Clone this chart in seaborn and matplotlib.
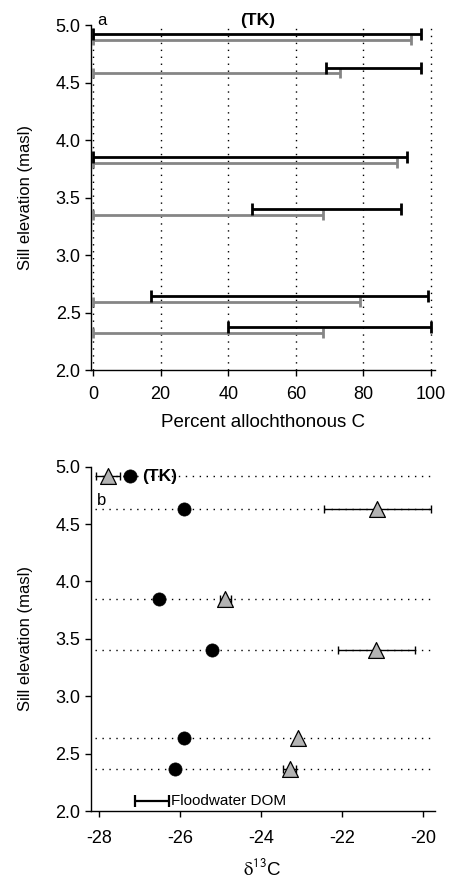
import matplotlib
matplotlib.use("Agg")
import matplotlib.pyplot as plt
import seaborn as sns
import pandas as pd
import numpy as np

# Sill elevation of each site (m above sea level), top = TK
sill_elev = [4.92, 4.63, 3.85, 3.40, 2.64, 2.37]

# Panel a: ranges of percent allochthonous carbon
dark_lo = [0, 69, 0, 47, 17, 40]
dark_hi = [97, 97, 93, 91, 99, 100]
light_lo = [0, 0, 0, 0, 0, 0]
light_hi = [94, 73, 90, 68, 79, 68]

# Panel b: delta 13C values
circle_d13c = [-27.22, -25.91, -26.51, -25.21, -25.91, -26.12]
tri_d13c = [-27.78, -21.14, -24.88, -21.16, -23.10, -23.30]
tri_err = [0.30, 1.32, 0.14, 0.94, 0.0, 0.16]

# Floodwater DOM range
flood_lo, flood_hi = -27.10, -26.28

a_ticks = [0, 20, 40, 60, 80, 100]
b_ticks = [-28, -26, -24, -22, -20]
y_ticks = [2.0, 2.5, 3.0, 3.5, 4.0, 4.5, 5.0]

sns.set_theme(style="ticks")
plt.rcParams["font.family"] = ["Liberation Sans", "DejaVu Sans"]
plt.rcParams["mathtext.fontset"] = "stix"
plt.rcParams["axes.linewidth"] = 1.0
plt.rcParams["xtick.major.size"] = 4
plt.rcParams["ytick.major.size"] = 4
plt.rcParams["xtick.major.width"] = 1.0
plt.rcParams["ytick.major.width"] = 1.0
for key in ("text.color", "axes.labelcolor", "xtick.color", "ytick.color",
            "axes.edgecolor"):
    plt.rcParams[key] = "black"

fig = plt.figure(figsize=(4.51, 8.80), dpi=100)
ax1 = fig.add_axes([0.2018, 0.5795, 0.763, 0.392])
ax2 = fig.add_axes([0.2011, 0.0784, 0.763, 0.3913])

dots = (0, (1, 4))
gray = "#858585"
offset = 0.05

# ---- panel a ----
for xv in a_ticks:
    ax1.axvline(xv, color="black", lw=1.0, ls=dots, zorder=0)

df_a = pd.DataFrame({
    "elev": sill_elev,
    "dlo": dark_lo, "dhi": dark_hi,
    "llo": light_lo, "lhi": light_hi,
})
dmid = (df_a["dlo"] + df_a["dhi"]) / 2
lmid = (df_a["llo"] + df_a["lhi"]) / 2
ax1.errorbar(lmid, df_a["elev"] - offset, xerr=(df_a["lhi"] - df_a["llo"]) / 2,
             fmt="none", ecolor=gray, elinewidth=2.0, capsize=3.8, capthick=2.0, zorder=3)
ax1.errorbar(dmid, df_a["elev"], xerr=(df_a["dhi"] - df_a["dlo"]) / 2,
             fmt="none", ecolor="black", elinewidth=2.0, capsize=4.0, capthick=2.0, zorder=4)

ax1.set_xlim(-0.6, 101.2)
ax1.set_ylim(2.0, 5.0)
ax1.set_xticks(a_ticks)
ax1.set_yticks(y_ticks)
ax1.set_yticklabels([f"{v:.1f}" for v in y_ticks])
ax1.set_xlabel("Percent allochthonous C", fontsize=13.5, labelpad=8)
ax1.set_ylabel("Sill elevation (masl)", fontsize=12, labelpad=16)
ax1.tick_params(labelsize=13, direction="out", color="black", labelcolor="black")
ax1.tick_params(axis="x", pad=7.5)
ax1.text(1.2, 5.003, "a", fontsize=12, ha="left", va="baseline", clip_on=False)
ax1.text(48.6, 5.04, "(TK)", fontsize=12.5, fontweight="bold", ha="center",
         va="center", clip_on=False)

# ---- panel b ----
for yv in sill_elev:
    ax2.axhline(yv, xmin=0.012, xmax=1.0, color="black", lw=1.0, ls=dots, zorder=0)

df_b = pd.DataFrame({"elev": sill_elev, "circ": circle_d13c,
                     "tri": tri_d13c, "err": tri_err})
ax2.errorbar(df_b["tri"], df_b["elev"], xerr=df_b["err"], fmt="none",
             ecolor="black", elinewidth=1.0, capsize=3, capthick=1.0, zorder=2)
sns.scatterplot(data=df_b, x="tri", y="elev", marker="^", s=130, color="#b3b3b3",
                edgecolor="black", linewidth=0.9, ax=ax2, zorder=3, legend=False)
sns.scatterplot(data=df_b, x="circ", y="elev", marker="o", s=90, color="black",
                edgecolor="black", linewidth=0.5, ax=ax2, zorder=4, legend=False)

ax2.errorbar([(flood_lo + flood_hi) / 2], [2.087], xerr=[(flood_hi - flood_lo) / 2],
             fmt="none", ecolor="black", elinewidth=1.6, capsize=4, capthick=1.6)
ax2.text(flood_hi + 0.05, 2.087, "Floodwater DOM", fontsize=11, ha="left", va="center")

ax2.text(-26.93, 4.915, "(TK)", fontsize=12.5, fontweight="bold", ha="left", va="center")
ax2.text(-28.05, 4.668, "b", fontsize=12, ha="left", va="baseline")

ax2.set_xlim(-28.2, -19.72)
ax2.set_ylim(2.0, 5.0)
ax2.set_xticks(b_ticks)
ax2.set_xticklabels([str(v) for v in b_ticks])
ax2.set_yticks(y_ticks)
ax2.set_yticklabels([f"{v:.1f}" for v in y_ticks])
ax2.set_xlabel(r"$\mathrm{\delta}^{\mathsf{13}}$C", fontsize=13.5, labelpad=8)
ax2.set_ylabel("Sill elevation (masl)", fontsize=12, labelpad=16)
ax2.tick_params(labelsize=13, direction="out", color="black", labelcolor="black")
ax2.tick_params(axis="x", pad=9.5)

for ax in (ax1, ax2):
    sns.despine(ax=ax)
    for sp in ("left", "bottom"):
        ax.spines[sp].set_color("black")
    ax.grid(False)

fig.savefig("out.png", dpi=100)
